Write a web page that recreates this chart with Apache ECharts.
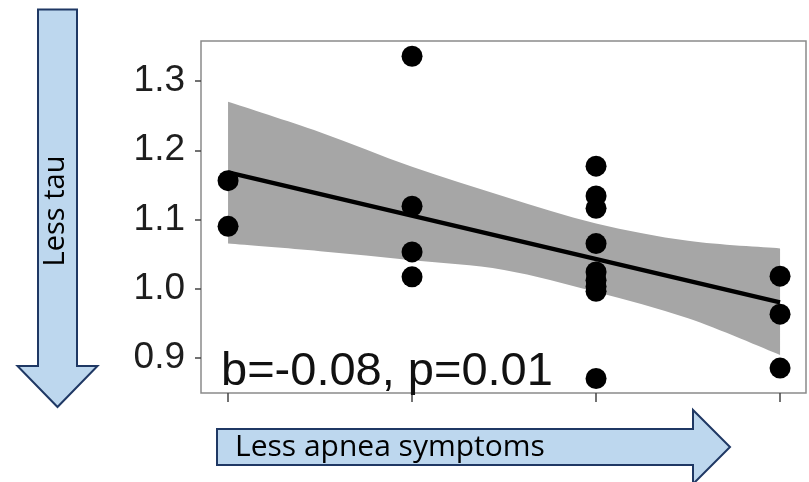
<!DOCTYPE html>
<html>
<head>
<meta charset="utf-8">
<script src="https://cdn.jsdelivr.net/npm/echarts@6/dist/echarts.min.js"></script>
<style>
  html, body { margin: 0; padding: 0; background: #ffffff; }
  #chart { width: 809px; height: 482px; }
</style>
</head>
<body>
<div id="chart"></div>
<script>
// Tau ratio by apnea symptom level, with linear fit and 95% confidence band
const groupX = [1, 2, 3, 4];
const tauGroup1 = [1.156, 1.090];
const tauGroup2 = [1.336, 1.119, 1.053, 1.017];
const tauGroup3 = [1.177, 1.134, 1.116, 1.065, 1.024, 1.012, 1.003, 0.996, 0.870];
const tauGroup4 = [1.018, 0.963, 0.885];

const fitX = [1, 4];
const fitY = [1.168, 0.980];

const bandX = [1, 1.5, 2, 2.5, 3, 3.5, 4];
const bandUpper = [1.270, 1.226, 1.176, 1.133, 1.094, 1.069, 1.058];
const bandLower = [1.065, 1.054, 1.041, 1.027, 0.995, 0.957, 0.904];

const yTicks = [0.9, 1.0, 1.1, 1.2, 1.3];
const statLabel = 'b=-0.08, p=0.01';
const yArrowLabel = 'Less tau';
const xArrowLabel = 'Less apnea symptoms';

const groups = [tauGroup1, tauGroup2, tauGroup3, tauGroup4];
const points = [];
groups.forEach((vals, i) => vals.forEach(v => points.push([groupX[i], v])));

const arrowFill = '#bdd7ee';
const arrowStroke = '#1f3864';

// Catmull-Rom curve through pixel points, written as cubic Bezier path commands
function curveThrough(pts) {
  let d = '';
  for (let i = 0; i < pts.length - 1; i++) {
    const p0 = pts[Math.max(i - 1, 0)];
    const p1 = pts[i];
    const p2 = pts[i + 1];
    const p3 = pts[Math.min(i + 2, pts.length - 1)];
    const c1 = [p1[0] + (p2[0] - p0[0]) / 6, p1[1] + (p2[1] - p0[1]) / 6];
    const c2 = [p2[0] - (p3[0] - p1[0]) / 6, p2[1] - (p3[1] - p1[1]) / 6];
    d += ' C' + c1[0] + ' ' + c1[1] + ' ' + c2[0] + ' ' + c2[1] + ' ' + p2[0] + ' ' + p2[1];
  }
  return d;
}

function renderBand(params, api) {
  const up = bandX.map((x, i) => api.coord([x, bandUpper[i]]));
  const lo = bandX.map((x, i) => api.coord([x, bandLower[i]])).reverse();
  const d = 'M' + up[0][0] + ' ' + up[0][1] + curveThrough(up) +
            ' L' + lo[0][0] + ' ' + lo[0][1] + curveThrough(lo) + ' Z';
  return {
    type: 'path',
    shape: { pathData: d },
    style: { fill: '#a6a6a6', stroke: null }
  };
}

const chart = echarts.init(document.getElementById('chart'), null, { renderer: 'canvas' });

chart.setOption({
  animation: false,
  backgroundColor: '#ffffff',
  grid: {
    left: 201, top: 41, right: 3, bottom: 89,
    show: true, borderColor: '#8a8a8a', borderWidth: 1.5, backgroundColor: 'transparent'
  },
  xAxis: {
    type: 'value', min: 0.853, max: 4.141,
    splitLine: { show: false },
    axisLine: { show: false },
    axisTick: { show: true, customValues: groupX, length: 9, lineStyle: { color: '#444', width: 1.5 } },
    axisLabel: { show: false }
  },
  yAxis: {
    type: 'value', min: 0.849, max: 1.358,
    splitLine: { show: false },
    axisLine: { show: false },
    axisTick: { show: true, customValues: yTicks, length: 6, lineStyle: { color: '#444', width: 1.5 } },
    axisLabel: {
      show: true, customValues: yTicks, margin: 16,
      formatter: v => v.toFixed(1),
      color: '#1e1e1e', fontSize: 37, fontFamily: 'Liberation Sans, Arial, sans-serif'
    }
  },
  series: [
    {
      name: 'band', type: 'custom', renderItem: renderBand,
      data: [0], silent: true, z: 1
    },
    {
      name: 'fit', type: 'line',
      data: fitX.map((x, i) => [x, fitY[i]]),
      symbol: 'none', lineStyle: { color: '#000000', width: 4.5 }, z: 2
    },
    {
      name: 'tau', type: 'scatter',
      data: points, symbol: 'circle', symbolSize: 21,
      itemStyle: { color: '#000000', opacity: 1 }, z: 3
    }
  ],
  graphic: [
    {
      type: 'text', left: 221, top: 349, z: 10,
      style: { text: statLabel, fontSize: 47, fontFamily: 'Liberation Sans, Arial, sans-serif', fill: '#111' }
    },
    {
      type: 'polygon', z: 5,
      shape: { points: [[38, 9.5], [77, 9.5], [77, 366], [97.5, 366], [57.5, 407], [17.5, 366], [38, 366]] },
      style: { fill: arrowFill, stroke: arrowStroke, lineWidth: 2 }
    },
    {
      type: 'text', z: 6, x: 56, y: 211, rotation: Math.PI / 2,
      style: { text: yArrowLabel, fontSize: 29, fontFamily: 'Open Sans, sans-serif', fill: '#000', align: 'center', verticalAlign: 'middle' }
    },
    {
      type: 'polygon', z: 5,
      shape: { points: [[217, 429], [693, 429], [693, 410], [730, 447], [693, 484], [693, 465], [217, 465]] },
      style: { fill: arrowFill, stroke: arrowStroke, lineWidth: 2 }
    },
    {
      type: 'text', z: 6, x: 235, y: 447,
      style: { text: xArrowLabel, fontSize: 30, fontFamily: 'Open Sans, sans-serif', fill: '#000', align: 'left', verticalAlign: 'middle' }
    }
  ]
});
</script>
</body>
</html>
